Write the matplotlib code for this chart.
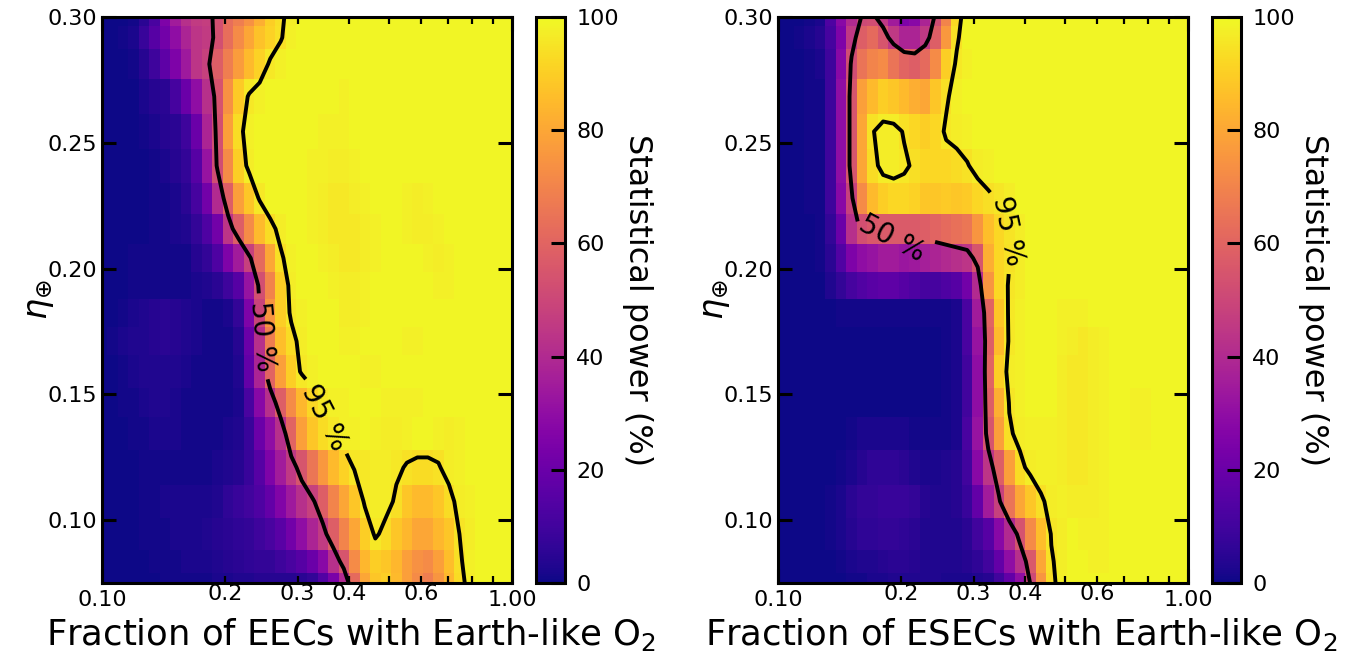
import numpy as np
import matplotlib
matplotlib.use('Agg')
import matplotlib.pyplot as plt
from matplotlib.ticker import FixedLocator, FixedFormatter, FormatStrFormatter

fs = 16
plt.rc('font', family='DejaVu Sans', size=fs)
plt.rc('mathtext', fontset='dejavusans')

# grid: 40 log-spaced fractions, 20 eta values (cell centres)
frac = np.logspace(-1, 0, 40)
eta = np.array([0.075, 0.0836, 0.0945, 0.1074, 0.1209, 0.1344, 0.1467, 0.1590,
                0.1711, 0.1824, 0.1933, 0.2042, 0.2158, 0.2280, 0.2409, 0.2545,
                0.2684, 0.2813, 0.2918, 0.30])
eta_edges = np.array([0.071, 0.0790, 0.0881, 0.1008, 0.1139, 0.1278, 0.1410,
                      0.1524, 0.1655, 0.1767, 0.1880, 0.1985, 0.2098, 0.2217,
                      0.2342, 0.2475, 0.2614, 0.2753, 0.2872, 0.2964, 0.304])

# statistical power (%), rows from eta=0.075 (bottom) to eta=0.30 (top)
power_eec = np.array([
    [0,0,0,0,0,0,1,1,1,1,1,2,2,3,3,4,4,4,4,5,7,14,24,40,62,80,88,90,85,78,72,68,75,84,93,97,99,99,99,99],
    [0,0,0,0,0,1,1,1,2,2,2,3,4,5,6,7,7,9,12,15,20,28,42,55,72,84,90,88,84,78,74,72,78,86,94,98,99,99,99,99],
    [0,0,0,0,1,1,1,2,2,2,3,4,5,6,7,9,12,16,22,30,38,46,58,70,80,90,96,93,88,84,80,80,84,88,95,97,99,99,99,99],
    [0,0,0,0,1,1,2,2,2,2,2,3,6,8,10,13,18,26,34,42,48,58,70,80,88,96,97,97,94,88,85,85,88,93,97,98,99,99,99,99],
    [0,0,0,0,1,1,1,1,1,1,1,2,3,4,8,15,25,35,45,55,66,76,85,91,95.5,96,97,97,96,94.5,93.3,93.3,94.5,97,98,99,99,99,99,99],
    [0,0,0,1,1,2,2,2,1,1,1,1,2,3,8,20,30,42,60,78,88,93,96,98,98,99,98,97,97,98,99,99,98,97,98,99,99,99,99,99],
    [0,0,1,1,2,3,3,2,1,1,1,1,1,2,12,28,42,58,72,84,92,96,98,98,99,99,99,98,98,98,98,99,99,99,99,99,99,99,99,99],
    [0,0,1,2,3,3,3,3,2,1,1,1,1,3,18,38,60,78,90,96,98,99,99,99,99,98,98,99,99,99,99,99,99,99,99,99,99,99,99,99],
    [0,1,2,3,3,4,5,4,3,2,1,1,1,4,20,42,68,86,93,97,99,99,99,98,98,99,99,99,99,98,98,99,99,99,99,99,99,99,99,99],
    [0,0,1,2,3,4,5,4,3,2,1,1,2,7,25,49,75,90,96,98,99,99,99,97,97,98,99,99,99,99,99,99,99,99,99,99,99,99,99,99],
    [0,0,0,1,1,1,1,1,1,2,3,5,9,15,32,53,70,90,97,99,99,99,98,97,97,98,99,99,99,99,99,99,98,98,99,99,99,99,99,99],
    [0,0,0,1,1,1,1,1,1,4,7,13,25,35,48,62,80,94,98,99,99,98,97,96,96,97,98,99,99,99,99,98,97,98,99,99,99,99,99,99],
    [0,0,0,0,0,1,1,2,3,7,13,22,44,58,72,85,93,97,99,99,98,97,96,96,96,97,98,99,99,98,97,97,98,99,99,99,99,99,99,99],
    [0,0,0,0,0,1,1,2,5,11,22,40,58,78,88,96,99,99,99,99,98,97,96,96,97,98,99,99,99,98,97,98,99,99,99,99,99,99,99,99],
    [0,0,0,0,0,1,2,4,7,15,32,52,72,90,97,99,99,99,99,99,98,98,97,97,98,99,99,99,99,99,99,99,99,99,99,99,99,99,99,99],
    [0,0,0,0,1,2,4,5,9,20,38,53,78,93,98,99,99,99,99,99,99,98,98,98,99,99,99,99,99,99,99,99,99,99,99,99,99,99,99,99],
    [0,0,0,0,2,4,5,11,20,30,42,54,74,89,96,98,99,99,99,99,99,99,99,98,99,99,99,99,99,99,99,99,99,99,99,99,99,99,99,99],
    [0,0,0,1,4,9,17,25,34,44,48,58,68,77,85,91,96,98,99,99,99,99,99,99,99,99,99,99,99,99,99,99,99,99,99,99,99,99,99,99],
    [0,0,1,2,8,15,22,30,38,44,46,53,63,72,80,87,91,94.5,98,99,99,99,99,99,99,99,99,99,99,99,99,99,99,99,99,99,99,99,99,99],
    [0,0,0,1,5,12,25,35,42,46,47,53,63,68,74,82,90,94,97,99,99,99,99,99,99,99,99,99,99,99,99,99,99,99,99,99,99,99,99,99],
])

power_esec = np.array([
    [0,0,0,0,0,0,0,1,1,2,2,3,3,3,3,3,2,2,2,3,4,10,18,30,50.5,75,93.5,97.3,99,99,99,99,99,99,99,99,99,99,99,99],
    [0,0,0,0,0,0,1,2,3,3,4,5,5,4,3,3,3,3,4,6,10,18,30,42,56,80,94.3,97.5,99,99,98,98,99,99,99,99,99,99,99,99],
    [0,0,0,0,0,1,2,4,6,6,7,7,6,5,3,3,3,3,5,10,15,28,40,54,72,86,95.5,97,99,98,98,98,99,99,99,99,99,99,99,99],
    [0,0,0,0,0,1,2,5,7,7,8,8,8,7,4,3,3,4,8,18,35,48,65,80,88,94,97,98,97,97,97,98,99,99,99,99,99,99,99,99],
    [0,0,0,0,0,0,1,2,4,6,6,6,5,3,2,2,3,4,10,28,44,58,78,93,97,98,98,97,96,96,97,98,99,99,99,99,99,99,99,99],
    [0,0,0,0,0,0,0,1,2,2,2,2,2,1,1,1,1,2,12,32,55,78,94,97,98,98,98,97,96,96,97,98,99,99,98,98,99,99,99,99],
    [0,0,0,0,0,0,0,0,0,0,0,0,0,0,0,0,1,2,10,30,58,82,95.5,98,99,99,99,97,96,96,97,98,99,99,98,98,99,99,99,99],
    [0,0,0,0,0,0,0,0,0,0,0,0,0,0,0,0,1,2,10,30,60,90,97,98,99,99,99,97,96,96,97,98,99,99,99,99,99,99,99,99],
    [0,0,0,0,0,0,0,0,0,0,0,0,0,0,0,0,1,2,12,32,58,85,96,98,99,99,99,98,97,96,97,98,99,99,99,99,99,99,99,99],
    [0,0,0,0,0,0,1,1,1,1,1,1,1,1,1,1,1,2,12,35,60,88,96,98,99,99,99,98,98,98,99,99,99,99,99,99,99,99,99,99],
    [0,0,0,0,0,3,7,11,14,16,17,17,15,13,11,11,13,15,22,40,75,92,95.5,97,99,99,99,99,99,99,99,99,99,99,99,99,99,99,99,99],
    [0,0,0,0,1,5,14,25,30,32,35,35,33,34,36,38,40,42,44,55,82,92,94.8,97,99,99,99,99,99,99,99,99,99,99,99,99,99,99,99,99],
    [0,0,0,0,1,7,20,42,53,56,57,57,57,57,58,60,62,64,66,75,86,92,95.3,97,99,99,99,99,99,99,99,99,99,99,99,99,99,99,99,99],
    [0,0,0,1,1,9,28,48,72,85,90,92,92,91,88,88,89,88,89,92,94,95.6,97,99,99,99,99,99,99,99,99,99,99,99,99,99,99,99,99,99],
    [0,0,0,1,1,9,30,55,80,93,97,97,96,94,92,92,92,93,94.6,97,98,99,99,99,99,99,99,99,99,99,99,99,99,99,99,99,99,99,99,99],
    [0,0,0,1,1,9,30,55,80,94.7,97,97,94.5,92,90,92,96,97,98,99,99,99,99,99,99,99,99,99,99,99,99,99,99,99,99,99,99,99,99,99],
    [0,0,0,1,1,9,30,55,78,85,90,88,85,82,80,88,94,98,99,99,99,99,99,99,99,99,99,99,99,99,99,99,99,99,99,99,99,99,99,99],
    [0,0,0,1,2,9,28,52,65,70,72,65,60,58,62,72,90,96,98,99,99,99,99,99,99,99,99,99,99,99,99,99,99,99,99,99,99,99,99,99],
    [0,0,1,2,4,11,25,45,58,62,55,45,38,38,45,58,76,94,99,99,99,99,99,99,99,99,99,99,99,99,99,99,99,99,99,99,99,99,99,99],
    [0,0,0,1,2,13,28,40,51,52,45,35,25,28,38,52,70,92,99,99,99,99,99,99,99,99,99,99,99,99,99,99,99,99,99,99,99,99,99,99],
])

contour_levels = [50, 95]
xlabels = ['Fraction of EECs with Earth-like O$_2$',
           'Fraction of ESECs with Earth-like O$_2$']
label_pos = [[(0.246, 0.173), (0.345, 0.1405)],
             [(0.19, 0.21), (0.37, 0.215)]]
# rotation forced on a label where the reference tilts it more than the grid allows
label_rot = [[None, None], [-28, None]]
xlabel_x = [0.607, 0.593]
minor_ticks = [0.2, 0.3, 0.4, 0.5, 0.6, 0.7, 0.8, 0.9]
minor_labels = ['0.2', '0.3', '0.4', '', '0.6', '', '', '']
eta_ticks = [0.10, 0.15, 0.20, 0.25, 0.30]
cbar_ticks = [0, 20, 40, 60, 80, 100]

# cell edges in log space for the fractions
lf = np.log10(frac)
dl = lf[1] - lf[0]
frac_edges = 10 ** np.concatenate([[lf[0] - dl / 2], (lf[:-1] + lf[1:]) / 2, [lf[-1] + dl / 2]])

W, H = 1346, 651
fig = plt.figure(figsize=(W / 100, H / 100), dpi=100)


def box(l, t, r, b):
    return [l / W, 1 - b / H, (r - l) / W, (b - t) / H]


panels = [(box(102, 17, 512, 583), box(536, 17, 565, 583), power_eec),
          (box(778, 17, 1188, 583), box(1212, 17, 1241, 583), power_esec)]

for i, (rect, crect, Z) in enumerate(panels):
    ax = fig.add_axes(rect)
    cax = fig.add_axes(crect)
    ax.set_xscale('log')
    mesh = ax.pcolormesh(frac_edges, eta_edges, Z, cmap='plasma', vmin=0, vmax=100)
    ax.set_xlim(0.1, 1.0)
    ax.set_ylim(0.075, 0.30)
    cs = ax.contour(frac, eta, Z, levels=contour_levels, colors='k', linewidths=2.8)
    texts = ax.clabel(cs, fmt='%d %%', fontsize=20, inline=True, inline_spacing=8,
                      manual=label_pos[i])
    for t, pos in zip(texts, label_pos[i]):
        # match each label text to the requested position it was placed near
        j = label_pos[i].index(pos)
        if label_rot[i][j] is not None:
            t.set_rotation(label_rot[i][j])

    ax.xaxis.set_major_locator(FixedLocator([0.1, 1.0]))
    ax.xaxis.set_major_formatter(FixedFormatter(['0.10', '1.00']))
    ax.xaxis.set_minor_locator(FixedLocator(minor_ticks))
    ax.xaxis.set_minor_formatter(FixedFormatter(minor_labels))
    ax.set_yticks(eta_ticks)
    ax.yaxis.set_major_formatter(FormatStrFormatter('%.2f'))
    ax.tick_params(which='both', direction='in', top=True, right=True, labelsize=fs)
    ax.tick_params(which='major', length=10, width=2.2)
    ax.tick_params(which='minor', length=5, width=1.6)
    ax.tick_params(axis='x', which='major', pad=5)
    ax.tick_params(axis='x', which='minor', pad=0.5)
    for sp in ax.spines.values():
        sp.set_linewidth(2.2)

    ax.set_xlabel(xlabels[i], fontsize=25.5)
    ax.xaxis.set_label_coords(xlabel_x[i], -0.0585)
    ax.set_ylabel(r'$\eta_{\oplus}$', fontsize=24, labelpad=-6)

    cbar = fig.colorbar(mesh, cax=cax, ticks=cbar_ticks)
    cbar.ax.tick_params(direction='in', length=10, width=2.2, labelsize=fs, pad=8)
    cbar.outline.set_linewidth(2.2)
    cbar.set_label('Statistical power (%)', rotation=270, fontsize=23, labelpad=25)

fig.savefig('out.png', dpi=100)
